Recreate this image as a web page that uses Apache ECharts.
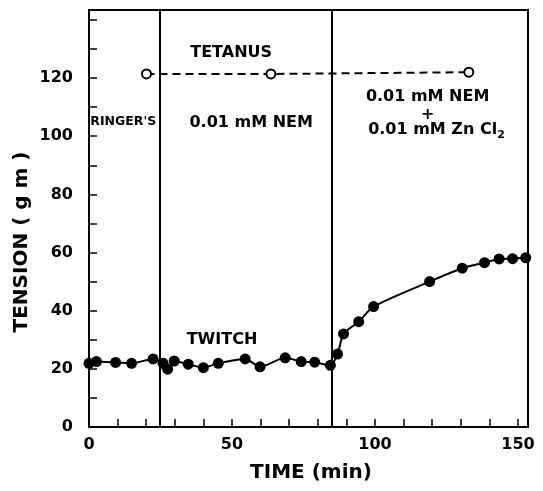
<!DOCTYPE html>
<html>
<head>
<meta charset="utf-8">
<script src="https://cdn.jsdelivr.net/npm/echarts@6/dist/echarts.min.js"></script>
<style>
html,body{margin:0;padding:0;background:#fff;}
#chart{width:543px;height:491px;}
</style>
</head>
<body>
<div id="chart"></div>
<script>
// ---- data ----
const twitchTime = [0, 2.6, 9.3, 14.9, 22.4, 25.9, 27.5, 29.8, 34.7, 40.0, 45.2, 54.6, 59.8, 68.6, 74.2, 78.9, 84.4, 86.9, 89.0, 94.3, 99.5, 119.1, 130.5, 138.3, 143.4, 148.1, 152.7];
const twitchTension = [21.9, 22.5, 22.2, 21.9, 23.4, 21.9, 19.9, 22.7, 21.6, 20.4, 21.9, 23.4, 20.7, 23.8, 22.5, 22.3, 21.2, 25.1, 32.0, 36.2, 41.4, 50.0, 54.6, 56.5, 57.8, 57.9, 58.2];
const tetanusTime = [20.1, 63.6, 132.8];
const tetanusTension = [121.4, 121.4, 122.0];
const solutionChanges = [24.6, 84.9];
const xTickLabels = [0, 50, 100, 150];
const yTickLabels = [0, 20, 40, 60, 80, 100, 120];
const annotationTexts = ['TETANUS', 'TWITCH', "RINGER'S", '0.01 mM NEM', '0.01 mM NEM', '+', '0.01 mM Zn Cl{sub|2}'];
const annotationX = [49.7, 46.5, 12.0, 56.7, 118.4, 118.4, 121.5];
const annotationY = [128.6, 29.9, 104.9, 104.5, 113.5, 107.5, 102.1];
const xAxisTitle = 'TIME (min)';
const yAxisTitle = 'TENSION ( g m )';

// ---- chart ----
const FONT = 'DejaVu Sans';
const annotationSizes = [16, 16, 12.5, 16, 16, 16, 16];
const chart = echarts.init(document.getElementById('chart'), null, {renderer: 'canvas'});
const option = {
  backgroundColor: '#fff',
  animation: false,
  grid: {left: 89, right: 15, top: 10, bottom: 64, show: true, borderColor: '#000', borderWidth: 2, backgroundColor: 'transparent'},
  xAxis: {
    type: 'value', min: 0, max: 153.5, interval: 10,
    axisLine: {show: true, lineStyle: {color: '#000', width: 2}},
    axisTick: {show: true, inside: true, length: 8, lineStyle: {color: '#000', width: 1.5}},
    splitLine: {show: false},
    axisLabel: {
      margin: 10, color: '#000', fontFamily: FONT, fontWeight: 'bold', fontSize: 16,
      formatter: v => xTickLabels.indexOf(v) >= 0 ? String(v) : ''
    }
  },
  yAxis: {
    type: 'value', min: 0, max: 143.4, interval: 10,
    axisLine: {show: true, lineStyle: {color: '#000', width: 2}},
    axisTick: {show: true, inside: true, length: 8, lineStyle: {color: '#000', width: 1.5}},
    splitLine: {show: false},
    axisLabel: {
      margin: 16, color: '#000', fontFamily: FONT, fontWeight: 'bold', fontSize: 16,
      formatter: v => yTickLabels.indexOf(v) >= 0 ? String(v) : ''
    }
  },
  series: [
    {
      name: 'Twitch', type: 'line', smooth: 0.25,
      data: twitchTime.map((t, i) => [t, twitchTension[i]]),
      symbol: 'circle', symbolSize: 11,
      itemStyle: {color: '#000'},
      lineStyle: {color: '#000', width: 2},
      clip: false,
      markLine: {
        silent: true, symbol: ['none', 'none'],
        label: {show: false},
        lineStyle: {color: '#000', width: 2, type: 'solid'},
        data: solutionChanges.map(x => ({xAxis: x}))
      }
    },
    {
      name: 'Tetanus', type: 'line',
      data: tetanusTime.map((t, i) => [t, tetanusTension[i]]),
      symbol: 'circle', symbolSize: 9,
      itemStyle: {color: '#fff', borderColor: '#000', borderWidth: 2},
      lineStyle: {color: '#000', width: 2, type: [8, 5]},
      z: 3
    },
    {
      name: 'Annotations', type: 'scatter', symbolSize: 0, silent: true,
      itemStyle: {opacity: 1, color: '#000'},
      data: annotationTexts.map((txt, i) => ({
        value: [annotationX[i], annotationY[i]],
        label: {
          show: true, position: 'inside', formatter: txt, opacity: 1,
          color: '#000', fontFamily: FONT, fontWeight: 'bold', fontSize: annotationSizes[i],
          rich: {sub: {fontSize: 11, fontFamily: FONT, fontWeight: 'bold', color: '#000', padding: [11, 0, 0, 0]}}
        }
      }))
    }
  ],
  graphic: [
    {type: 'text', x: 22, y: 242, rotation: Math.PI / 2,
     style: {text: yAxisTitle, x: 0, y: 0, textAlign: 'center', textVerticalAlign: 'middle', fill: '#000', font: 'bold 20px "DejaVu Sans"'}},
    {type: 'text', x: 311, y: 473,
     style: {text: xAxisTitle, x: 0, y: 0, textAlign: 'center', textVerticalAlign: 'middle', fill: '#000', font: 'bold 20px "DejaVu Sans"'}}
  ]
};
chart.setOption(option);
</script>
</body>
</html>
